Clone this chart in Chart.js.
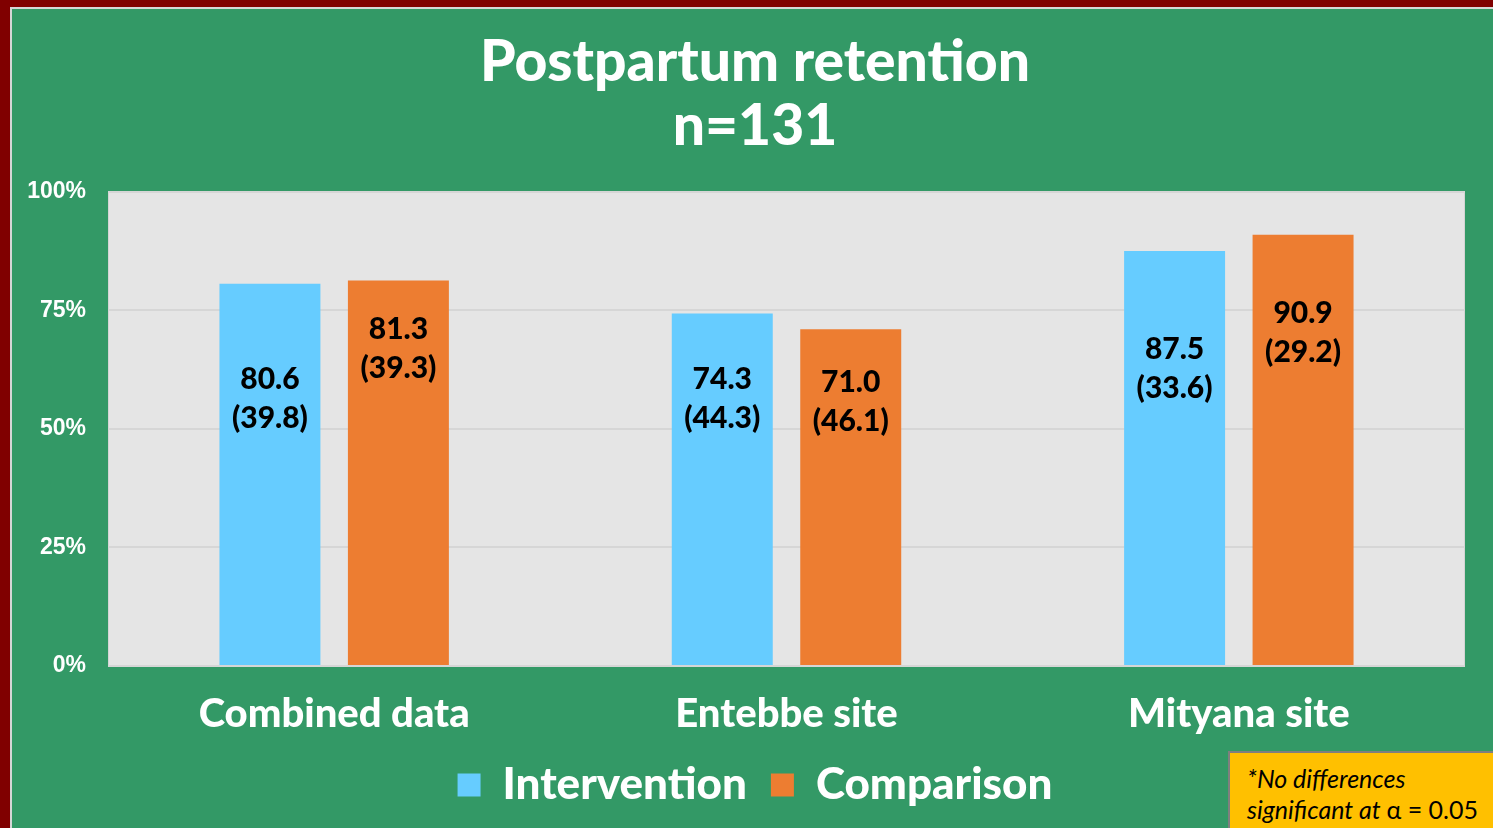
<!DOCTYPE html>
<html>
<head>
<meta charset="utf-8">
<title>Postpartum retention</title>
<script src="https://cdn.jsdelivr.net/npm/chart.js"></script>
<style>
  html, body { margin: 0; padding: 0; }
  body { background: #800000; width: 1493px; height: 828px; overflow: hidden; position: relative; }
  #panel { position: absolute; left: 10px; top: 7px; right: 0; bottom: 0; background: #339966; border-left: 2px solid #d6d6d6; border-top: 2px solid #d6d6d6; }
  #chartBox { position: absolute; left: 0; top: 0; width: 1493px; height: 828px; }
  #note { position: absolute; left: 1228px; top: 751px; width: 270px; height: 90px; background: #ffc000; border: 2px solid #7f7f7f; box-sizing: border-box;
          font-family: Lato, "Open Sans", sans-serif; font-style: italic; font-size: 25px; line-height: 31px; color: #000; padding: 10px 0 0 17px; }
</style>
</head>
<body>
<div id="panel"></div>
<div id="chartBox"><canvas id="myChart" width="1493" height="828"></canvas></div>
<div id="note">*No differences<br>significant at <span style="font-style:normal">α = 0.05</span></div>

<script>
  // values (mean % retained, SD in brackets)
  const categories = ['Combined data', 'Entebbe site', 'Mityana site'];
  const intervention = [80.6, 74.3, 87.5];
  const interventionSD = [39.8, 44.3, 33.6];
  const comparison = [81.3, 71.0, 90.9];
  const comparisonSD = [39.3, 46.1, 29.2];
  const yTicks = [0, 25, 50, 75, 100];

  // where the two-line label sits below each bar top (px), as placed on the slide
  const labelDrop = [[115, 85, 118], [68, 73, 98]];

  const FONT = 'Lato, "Open Sans", sans-serif';

  const plotBg = {
    id: 'plotBg',
    beforeDraw(chart) {
      const a = chart.chartArea, c = chart.ctx;
      c.save();
      c.fillStyle = '#e5e5e5';
      c.fillRect(a.left, a.top, a.right - a.left, a.bottom - a.top);
      c.strokeStyle = '#d4d4d4';
      c.lineWidth = 1;
      c.strokeRect(a.left + 0.5, a.top + 0.5, a.right - a.left - 1, a.bottom - a.top);
      c.restore();
    }
  };

  const barText = {
    id: 'barText',
    afterDatasetsDraw(chart) {
      const c = chart.ctx;
      const sds = [interventionSD, comparisonSD];
      c.save();
      c.fillStyle = '#000';
      c.font = '900 30px ' + FONT;
      c.textAlign = 'center';
      c.textBaseline = 'middle';
      chart.data.datasets.forEach(function(ds, i) {
        chart.getDatasetMeta(i).data.forEach(function(bar, k) {
          const cy = bar.y + labelDrop[i][k];
          c.fillText(ds.data[k].toFixed(1), bar.x, cy - 19.5);
          c.fillText('(' + sds[i][k].toFixed(1) + ')', bar.x, cy + 19.5);
        });
      });
      c.restore();
    }
  };

  const ctx = document.getElementById('myChart').getContext('2d');
  new Chart(ctx, {
    type: 'bar',
    data: {
      labels: categories,
      datasets: [
        { label: 'Intervention', data: intervention, backgroundColor: '#66ccff',
          barPercentage: 0.786, categoryPercentage: 0.568 },
        { label: 'Comparison', data: comparison, backgroundColor: '#ed7d31',
          barPercentage: 0.786, categoryPercentage: 0.568 }
      ]
    },
    options: {
      responsive: false,
      animation: false,
      layout: { padding: { left: 45, right: 28, top: 0, bottom: 11 } },
      plugins: {
        title: {
          display: true,
          text: ['Postpartum retention', 'n=131'],
          color: '#ffffff',
          font: { family: FONT, size: 57, weight: '900', lineHeight: 1.12 },
          padding: { top: 31, bottom: 33 }
        },
        legend: {
          position: 'bottom',
          labels: {
            color: '#ffffff',
            font: { family: FONT, size: 44, weight: '900' },
            boxWidth: 23, boxHeight: 23, padding: 24
          }
        },
        tooltip: { enabled: false }
      },
      scales: {
        x: {
          grid: { display: false },
          border: { display: false },
          ticks: { color: '#ffffff', padding: 16,
                   font: { family: FONT, size: 40, weight: '900' } },
          afterFit(s) { s.height = 73; }
        },
        y: {
          min: 0, max: 100,
          afterBuildTicks(s) { s.ticks = yTicks.map(v => ({ value: v })); },
          grid: { color: '#d6d6d6', lineWidth: 2, drawTicks: false },
          border: { display: false },
          ticks: { color: '#ffffff', padding: 22,
                   font: { family: '"Liberation Sans", Arial, sans-serif', size: 23, weight: 'bold' },
                   callback: v => v + '%' },
          afterFit(s) {
            s.width = 63;
            // labels hang out past the left padding, so don't clip them
            s._computeLabelArea = function() {};
          }
        }
      }
    },
    plugins: [plotBg, barText]
  });
</script>
</body>
</html>
